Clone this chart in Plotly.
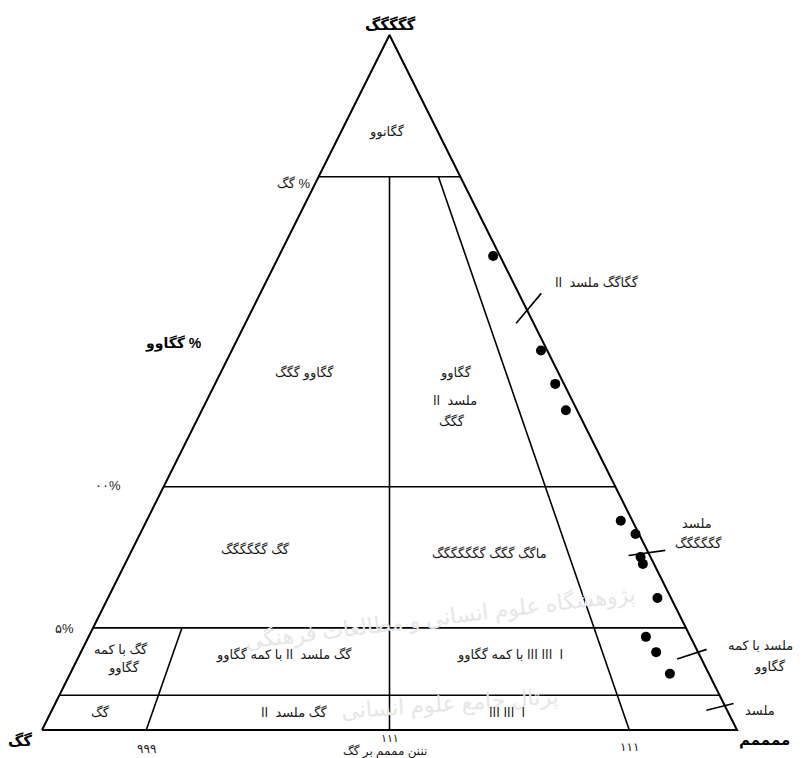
import numpy as np
import plotly.graph_objects as go

W, H = 811, 758

# ---- schematic diagram scales (positions on the non-linear classification diagram) ----
gravel_levels = [0.796, 0.35, 0.147, 0.05]          # 80%, 30%, 5%, trace boundaries (diagram height)
gravel_level_labels = ["% گگ", "۰۰%", "۵%"]
ratio_lines = [0.15, 0.5, 0.845]                     # sand/(sand+mud) boundaries on the diagram
ratio_labels = ["۹۹۹", "۱۱۱", "۱۱۱"]

# ---- samples (diagram gravel height, sand share of sand+mud) ----
sample_gravel = [0.682, 0.546, 0.498, 0.460, 0.301, 0.282, 0.249, 0.239, 0.190, 0.134, 0.112, 0.081]
sample_sand = [0.969, 0.980, 0.975, 0.970, 0.976, 0.993, 0.981, 0.979, 0.976, 0.926, 0.932, 0.939]

# ---- pixel frame of the triangle ----
X0, X1, YB, YT = 42.0, 737.0, 730.0, 35.0
S = X1 - X0


def tri(g, r):
    g = np.asarray(g, float)
    r = np.asarray(r, float)
    return 0.5 * g + (1 - g) * r, g


fig = go.Figure()
LINE = dict(color="black", width=2)
THIN = dict(color="black", width=1.6)


def seg(p, q, line=THIN):
    fig.add_trace(go.Scatter(x=[p[0], q[0]], y=[p[1], q[1]], mode="lines", line=line,
                             hoverinfo="skip", showlegend=False))


FONT = "Arial, DejaVu Sans, sans-serif"
RLM = "\u200f"


def lab(text, px, py, size=13, bold=False, color="#1a1a1a", xanchor="center", angle=0):
    t = f"<b>{text}</b>" if bold else text
    fig.add_annotation(text=t, xref="paper", yref="paper", x=px / W, y=1 - py / H,
                       xanchor=xanchor, yanchor="middle", showarrow=False, textangle=angle,
                       font=dict(family=FONT, size=size, color=color))


# faint background watermark text
lab("پژوهشگاه علوم انسانی و مطالعات فرهنگی", 440, 618, 22, False, "#e6e6e6", angle=-7)
lab("پرتال جامع علوم انسانی", 450, 704, 22, False, "#e6e6e6", angle=-4)

# outer triangle
cx, cy = tri([0, 0, 1, 0], [0, 1, 0.5, 0])
fig.add_trace(go.Scatter(x=cx, y=cy, mode="lines", line=LINE, hoverinfo="skip", showlegend=False))

# horizontal gravel boundaries
for g in gravel_levels:
    a = tri(g, 0)
    b = tri(g, 1)
    seg((float(a[0]), float(a[1])), (float(b[0]), float(b[1])))

# ratio lines: centre and right up to the 80% line, left only below 5%
top_g = gravel_levels[0]
for r, gmax in zip(ratio_lines, [gravel_levels[2], top_g, top_g]):
    a = tri(0, r)
    b = tri(gmax, r)
    seg((float(a[0]), float(a[1])), (float(b[0]), float(b[1])))

# leader ticks crossing the right edge (edge height, angle deg, inside len px, outside len px)
leaders = [(0.604, 50.0, 17, 22), (0.255, 8.0, 20, 17), (0.112, 18.0, 22, 9), (0.035, 14.0, 19, 9)]
for g, ang, lin, lout in leaders:
    ex, ey = tri(g, 1)
    ux, uy = np.cos(np.radians(ang)) / S, np.sin(np.radians(ang)) / S
    seg((float(ex - ux * lin), float(ey - uy * lin)), (float(ex + ux * lout), float(ey + uy * lout)))

# samples
sx, sy = tri(sample_gravel, sample_sand)
fig.add_trace(go.Scatter(x=sx, y=sy, mode="markers", marker=dict(color="black", size=10),
                         hoverinfo="skip", showlegend=False, cliponaxis=False))

# corners
lab("گگگگگ", 390, 24, 15, True, "black")
lab("گگ", 20, 740, 15, True, "black")
lab("ممممم", 764, 740, 15, True, "black")

# gravel-level labels
lab(RLM + gravel_level_labels[0], 293, 183)
lab(RLM + "% گگاوو", 173, 343, 14, True, "black")
lab(gravel_level_labels[1], 108, 485)
lab(gravel_level_labels[2], 64, 628)

# region labels
lab("گگانوو", 387, 132)
lab("گگاوو گگگ", 304, 373)
lab("گگاوو", 456, 373)
lab("ملسد  اا", 455, 400)
lab("گگگ", 452, 421)
lab("گگ گگگگگگ", 255, 549)
lab("ماگگ گگگ گگگگگگگ", 489, 553)
lab("گگ با کمه", 121, 649)
lab("گگاوو", 124, 668)
lab("گگ ملسد  اا با کمه گگاوو", 284, 655)
lab("ا  ااا ااا با کمه گگاوو", 510, 655)
lab("گگ", 100, 712)
lab("گگ ملسد  اا", 294, 712)
lab("ا  ااا ااا", 507, 712)

# outside labels
lab("گگاگگ ملسد  اا", 597, 282)
lab("ملسد", 697, 523)
lab("گگگگگگ", 698, 543)
lab("ملسد با کمه", 760, 645)
lab("گگاوو", 770, 667)
lab("ملسد", 760, 710)

# ratio tick labels and axis title
for r, t, py in zip(ratio_lines, ratio_labels, [749, 738, 747]):
    bx, _ = tri(0, r)
    lab(t, X0 + float(bx) * S, py, 11 if py < 740 else 12)
lab("نننن مممم بر گگ", 385, 751, 12)

fig.update_layout(
    width=W, height=H, autosize=False,
    margin=dict(l=0, r=0, t=0, b=0),
    paper_bgcolor="white", plot_bgcolor="white",
    xaxis=dict(range=[-X0 / S, (W - X0) / S], visible=False, fixedrange=True),
    yaxis=dict(range=[-(H - YB) / S, YB / S], visible=False, fixedrange=True),
    showlegend=False,
)

fig.write_html("out.html")
